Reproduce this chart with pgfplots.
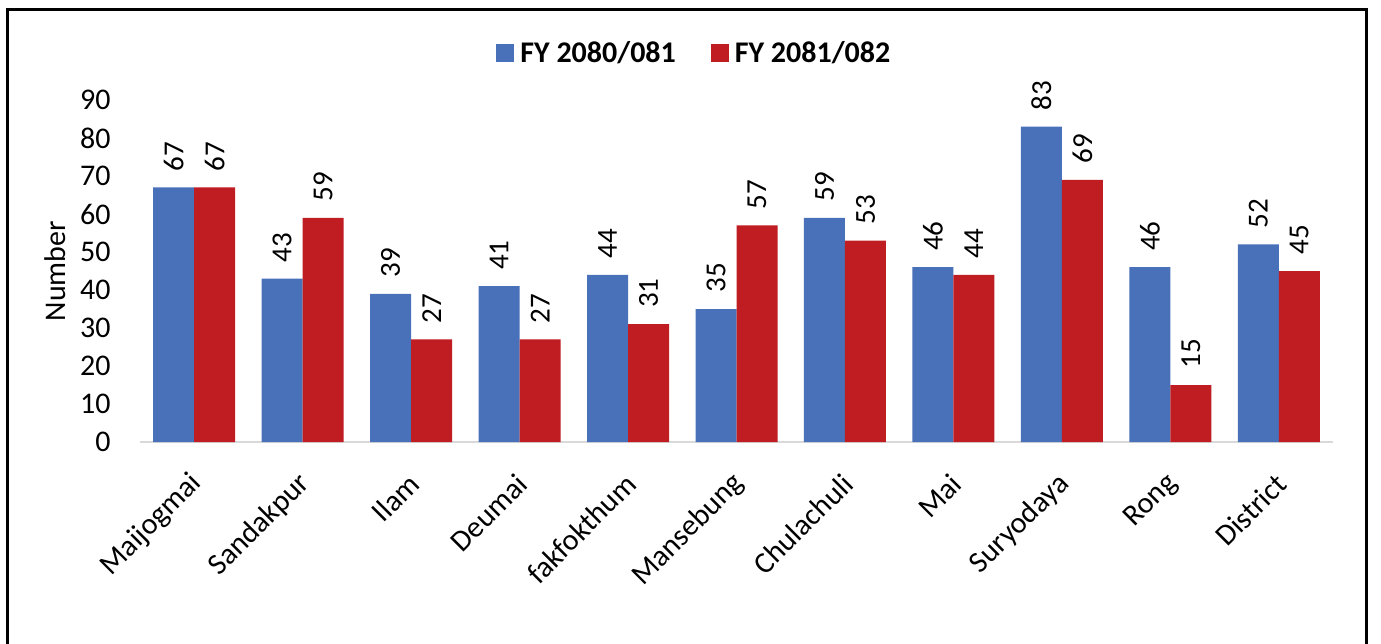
\documentclass[border=0pt]{standalone}
\usepackage{fontspec}
\setmainfont{Carlito}
\usepackage{pgfplots}
\pgfplotsset{compat=1.18}
\definecolor{cblue}{RGB}{72,113,185}
\definecolor{cred}{RGB}{192,29,35}
\definecolor{axgray}{RGB}{217,217,217}
\begin{document}
\begin{tikzpicture}
\useasboundingbox (0,0) rectangle (690.5pt,-321.5pt);
\fill[white] (0,0) rectangle (690.5pt,-321.5pt);
\draw[line width=1.5pt] (3.75pt,-322pt) -- (3.75pt,-4.85pt) -- (683pt,-4.85pt) -- (683pt,-322pt);
\begin{axis}[
  at={(70pt,-221pt)}, anchor=south west,
  scale only axis, width=596.5pt, height=171pt,
  xmin=-0.5, xmax=10.5, ymin=0, ymax=90,
  ybar=0pt, bar width=20.5pt,
  axis x line*=bottom, axis y line*=left,
  x axis line style={draw=axgray, line width=1pt, -},
  y axis line style={draw=none},
  major tick length=0pt,
  xtick={0,...,10},
  xticklabels={Maijogmai,Sandakpur,Ilam,Deumai,fakfokthum,Mansebung,Chulachuli,Mai,Suryodaya,Rong,District},
  ytick={0,10,...,90},
  tick label style={font=\fontsize{15}{18}\selectfont},
  /pgf/number format/assume math mode=true,
  yticklabel style={xshift=-14.5pt, anchor=east, inner sep=0pt},
  xticklabel style={xshift=1.5pt, yshift=-18.5pt, rotate=45, anchor=east, inner sep=0pt},
  ylabel={Number},
  ylabel style={font=\fontsize{15}{18}\selectfont, at={(axis description cs:0,0.5)}, anchor=center, yshift=42.5pt},
  nodes near coords,
  every node near coord/.append style={font=\fontsize{14.5}{17}\selectfont, rotate=90, anchor=west, inner sep=0pt, inner xsep=8pt, text=black},
  legend columns=2,
  legend style={at={(0.4655,1.1374)}, anchor=center, draw=none, fill=none,
    font=\fontsize{15}{18}\selectfont\bfseries,
    /tikz/every odd column/.append style={column sep=1pt},
    /tikz/every even column/.append style={column sep=15.5pt}},
  legend image code/.code={\draw[#1, draw=none] (0pt,-4.5pt) rectangle (9pt,4.5pt);},
]
\addplot[fill=cblue, draw=none] coordinates {(0,67)(1,43)(2,39)(3,41)(4,44)(5,35)(6,59)(7,46)(8,83)(9,46)(10,52)};
\addplot[fill=cred, draw=none] coordinates {(0,67)(1,59)(2,27)(3,27)(4,31)(5,57)(6,53)(7,44)(8,69)(9,15)(10,45)};
\legend{FY 2080/081, FY 2081/082}
\end{axis}
\end{tikzpicture}
\end{document}
